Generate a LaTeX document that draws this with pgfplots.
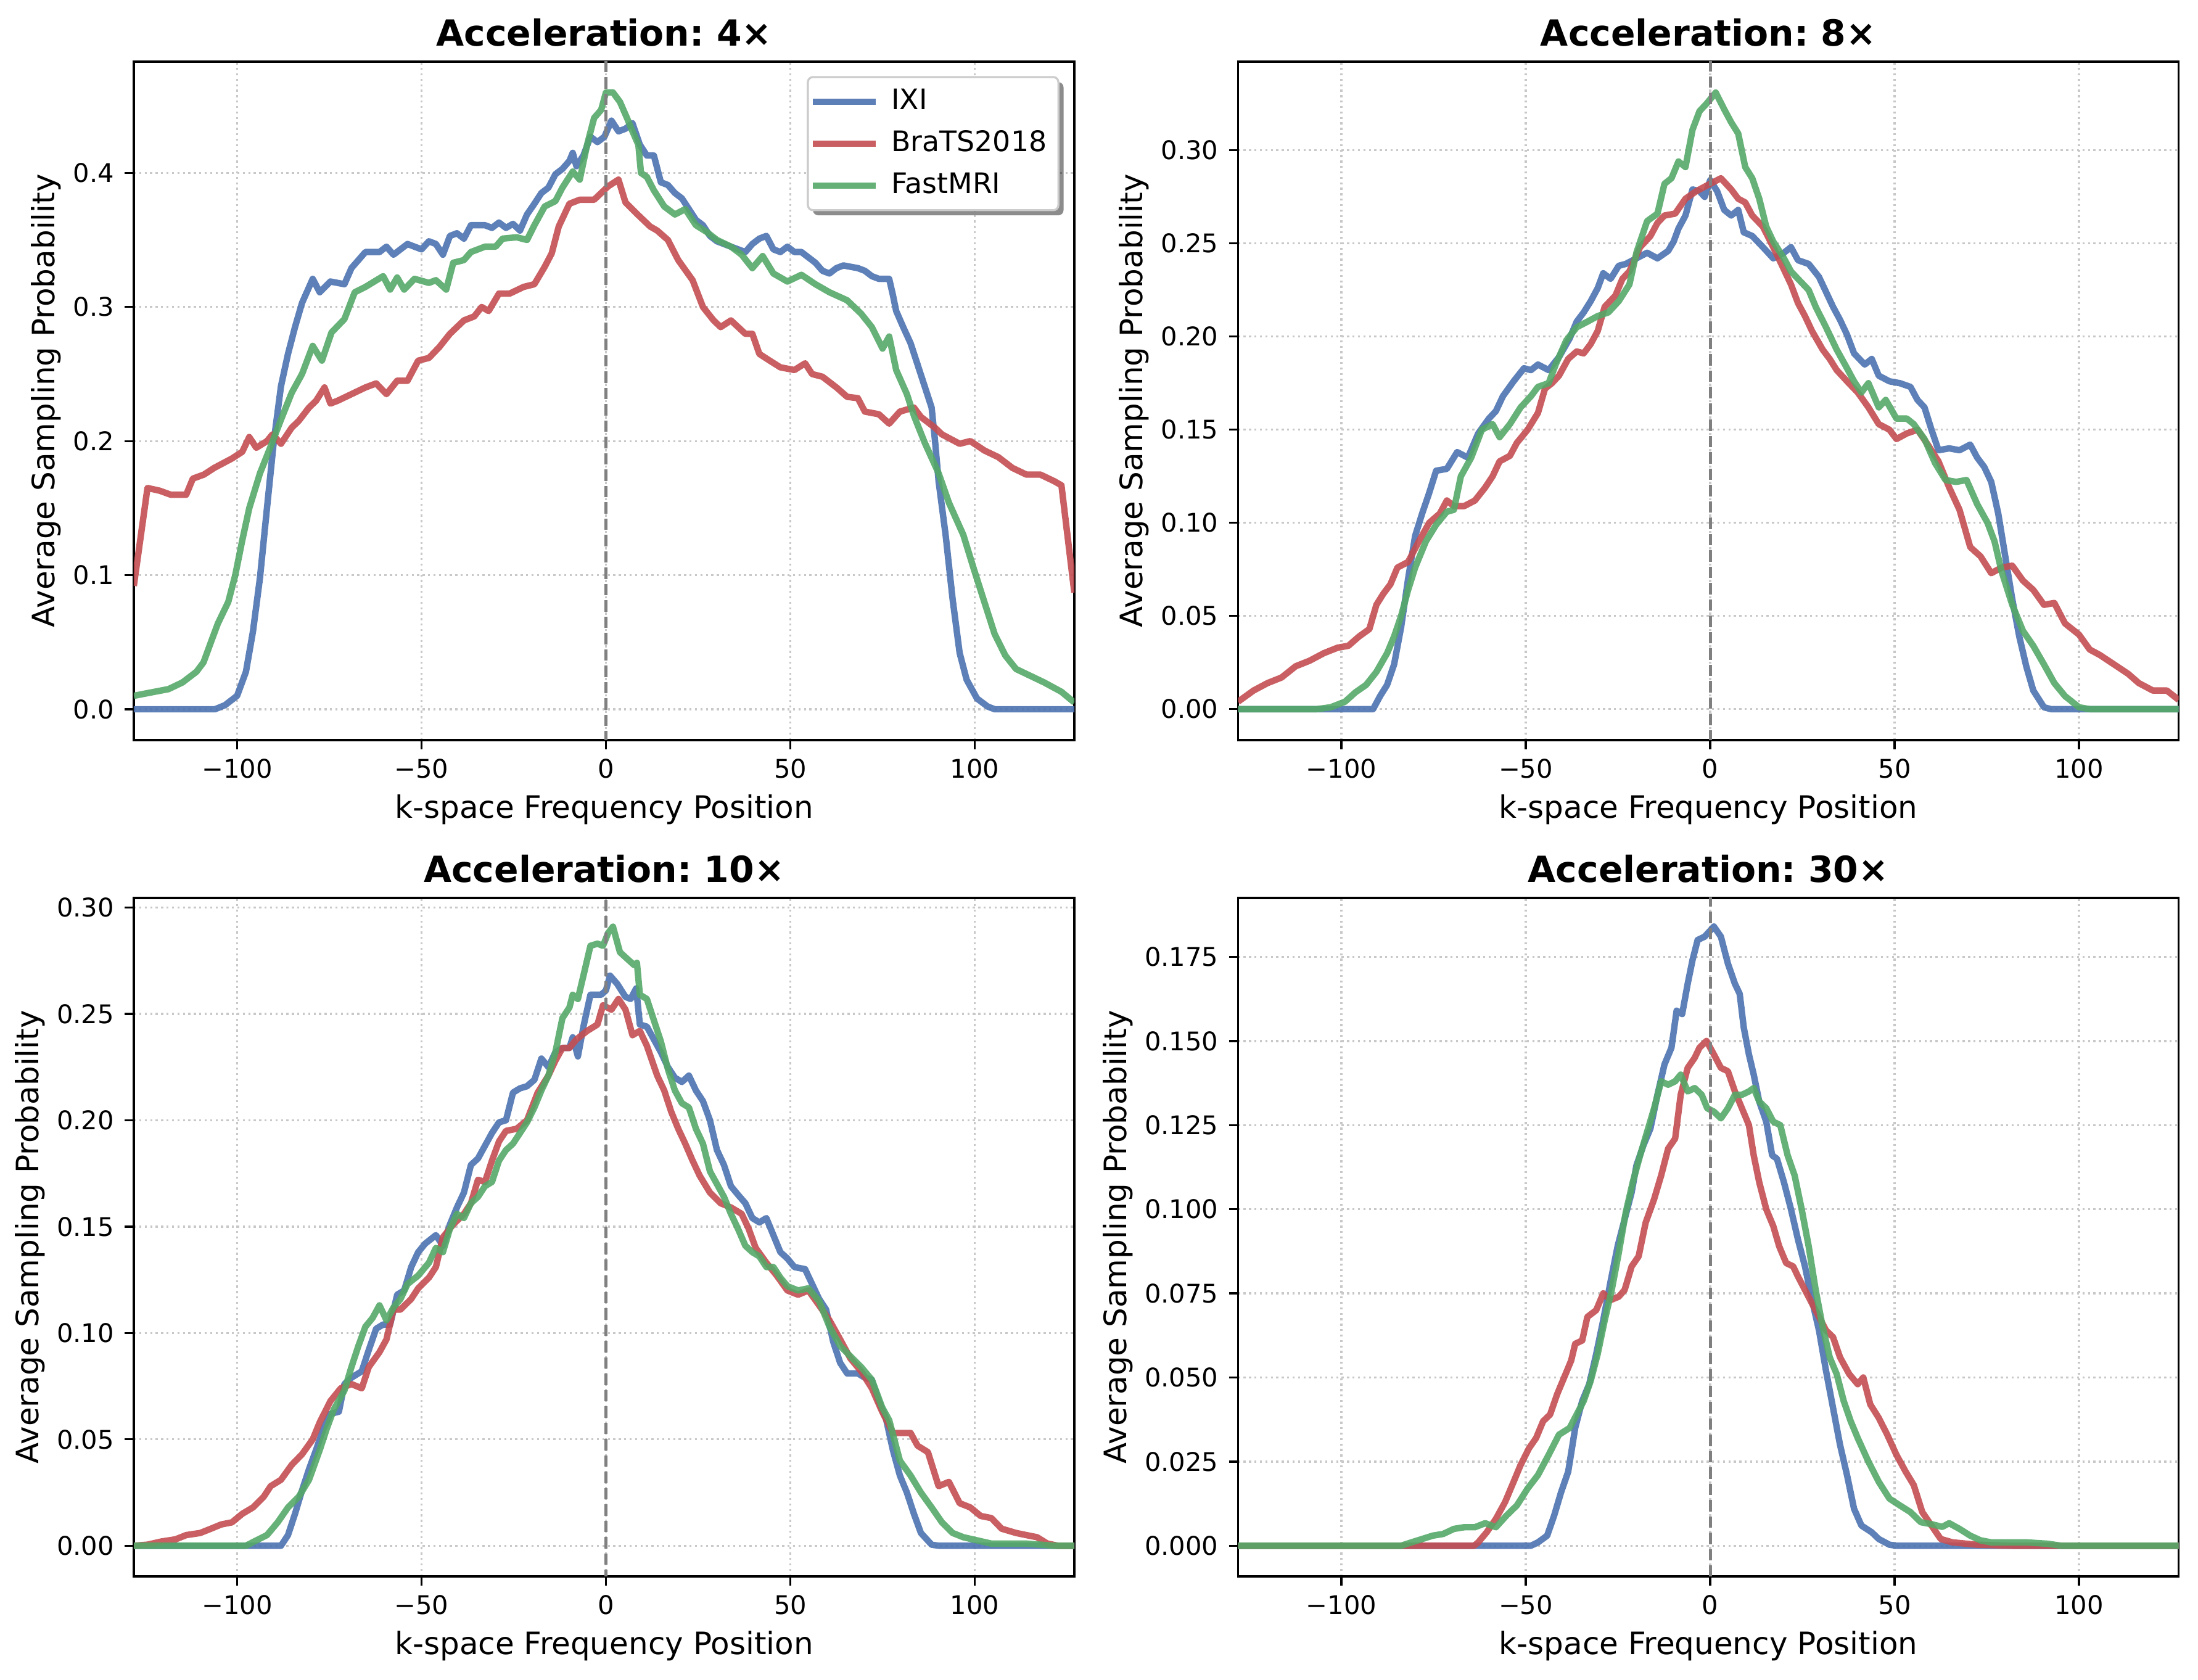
\documentclass[border=0pt]{standalone}
\usepackage{fontspec}
\setmainfont{DejaVu Sans}
\usepackage{pgfplots}
\pgfplotsset{compat=1.18}
\usetikzlibrary{shadows}
\frenchspacing

\makeatletter
\tikzset{noshadow/.code={\let\tikz@preactions\pgfutil@empty}}
\makeatother

\definecolor{cblue}{HTML}{4C72B0}
\definecolor{cred}{HTML}{C44E52}
\definecolor{cgreen}{HTML}{55A868}
\definecolor{gridc}{HTML}{C8C8C8}
\definecolor{legc}{HTML}{CCCCCC}
\definecolor{zeroc}{HTML}{808080}

\pgfplotsset{
  panel/.style={
    scale only axis, width=366pt, height=264pt,
    anchor=south west,
    xmin=-128, xmax=127,
    xtick={-100,-50,0,50,100},
    xticklabels={−100,−50,0,50,100},
    tick align=outside, tick pos=left,
    major tick length=3.5pt,
    every tick/.style={black, line width=0.8pt},
    axis line style={line width=0.8pt},
    grid=major,
    major grid style={gridc, line width=0.8pt, dash pattern=on 0.8pt off 1.32pt},
    tick label style={font=\fontsize{10}{12}\selectfont, inner sep=0pt},
    xticklabel style={anchor=base, yshift=-11.3pt},
    yticklabel style={anchor=east, xshift=-4pt},
    xlabel={k-space Frequency Position},
    ylabel={Average Sampling Probability},
    xlabel style={at={(axis description cs:0.5,0)}, anchor=base, yshift=-30.4pt,
      inner sep=0pt, font=\fontsize{12}{14}\selectfont},
    ylabel style={at={(ticklabel cs:0.5,4.5pt)}, anchor=south, inner sep=0pt,
      font=\fontsize{12}{14}\selectfont},
    title style={at={(0.5,1)}, anchor=base, yshift=0pt, inner sep=0pt,
      font=\bfseries\fontsize{14}{17}\selectfont},
    every axis plot/.append style={line width=2.5pt, opacity=0.9, line join=round},
  },
  zeroline/.style={zeroc, line width=1.2pt, dash pattern=on 4.44pt off 1.92pt,
    opacity=1, forget plot},
}

\begin{document}
\begin{tikzpicture}
\useasboundingbox (0,0) rectangle (855.36pt,653.52pt);

% ---------- 4x ----------
\begin{axis}[panel, at={(52.08pt,365.52pt)},
  title={Acceleration: 4×},
  ymin=-0.023, ymax=0.483,
  ytick={0,0.1,0.2,0.3,0.4}, yticklabels={0.0,0.1,0.2,0.3,0.4},
  legend style={at={(1,1)}, anchor=north east, xshift=-5.8pt, yshift=-5.6pt,
    draw=legc, line width=0.8pt, rounded corners=2pt, fill=white,
    drop shadow={shadow xshift=2pt, shadow yshift=-2pt, fill=black, opacity=0.45},
    font=\fontsize{11}{13}\selectfont,
    inner xsep=2pt, inner ysep=2.6pt, row sep=2.3pt, column sep=3.5pt,
    nodes={inner xsep=2.5pt, inner ysep=1.5pt, text height=8.5pt, text depth=2.5pt}},
  legend cell align=left,
  legend image code/.code={\draw[noshadow, #1, line cap=rect] (0pt,0pt) -- (22pt,0pt);},
]
\addplot[cblue] coordinates {
(-128,0) (-106,0) (-103.3,0.003) (-100,0.010) (-97.6,0.028) (-95.7,0.058) (-93.8,0.098)
(-91.9,0.150) (-90,0.201) (-88.1,0.241) (-86.2,0.265) (-84.3,0.285) (-82.4,0.303)
(-79.5,0.321) (-77.6,0.311) (-74.7,0.319) (-70.9,0.317) (-69,0.329) (-65.2,0.341)
(-61.4,0.341) (-59.5,0.345) (-57.6,0.339) (-53.8,0.347) (-50,0.343) (-48,0.349)
(-46.1,0.347) (-44.2,0.339) (-42.3,0.353) (-40.4,0.355) (-38.5,0.351) (-36.6,0.361)
(-32.8,0.361) (-30.9,0.359) (-29,0.363) (-27.1,0.359) (-25.2,0.362) (-23.3,0.357)
(-21.4,0.369) (-19.4,0.377) (-17.5,0.385) (-15.6,0.389) (-13.7,0.399) (-11.8,0.403)
(-9.9,0.409) (-9,0.415) (-8,0.405) (-6.1,0.413) (-4.2,0.427) (-2.3,0.423) (-0.4,0.427)
(1.5,0.439) (3.4,0.431) (5.3,0.433) (7.2,0.437) (9.2,0.421) (11.1,0.413) (13,0.413)
(14.9,0.393) (16.8,0.391) (18.7,0.385) (20.6,0.381) (22.5,0.373) (24.4,0.365)
(26.3,0.361) (28.2,0.353) (30.1,0.349) (33.9,0.345) (37.8,0.341) (39.7,0.347)
(41.6,0.351) (43.5,0.353) (45.4,0.343) (47.3,0.341) (49.2,0.345) (51.1,0.341)
(53,0.341) (54.9,0.337) (56.8,0.333) (58.7,0.327) (60.6,0.325) (62.5,0.329) (64.4,0.331)
(66.3,0.330) (68.3,0.329) (70.2,0.327) (72.1,0.323) (74,0.321) (76.8,0.321) (77.8,0.309)
(78.7,0.297) (80.6,0.285) (82.6,0.273) (84.5,0.257) (86.4,0.241) (88.3,0.225)
(89.2,0.201) (90.2,0.170) (92.1,0.130) (94,0.082) (95.9,0.042) (97.8,0.022)
(100.6,0.008) (103.5,0.002) (105.4,0) (127,0)
};
\addlegendentry{IXI}
\addplot[cred] coordinates {
(-128,0.092) (-124.3,0.165) (-121,0.163) (-118,0.160) (-113.8,0.160) (-112,0.172)
(-109,0.175) (-106.2,0.180) (-101.4,0.187) (-98.6,0.192) (-96.7,0.203) (-94.8,0.195)
(-91.9,0.200) (-90.4,0.205) (-88.1,0.198) (-85.2,0.210) (-83.3,0.215) (-80.5,0.225)
(-78.6,0.230) (-76.3,0.240) (-74.7,0.228) (-72.8,0.230) (-69,0.235) (-65.2,0.240)
(-62.3,0.243) (-59.5,0.235) (-56.6,0.245) (-53.8,0.245) (-50.9,0.260) (-48,0.262)
(-45.2,0.270) (-42.3,0.280) (-38.5,0.290) (-35.7,0.293) (-33.7,0.300) (-31.8,0.297)
(-29,0.310) (-26.1,0.310) (-22.3,0.315) (-19.4,0.317) (-16.6,0.330) (-14.7,0.340)
(-12.8,0.360) (-9.9,0.377) (-7.1,0.380) (-3.2,0.380) (-1.3,0.385) (0.6,0.390)
(3.4,0.395) (5.3,0.378) (8.2,0.370) (12,0.360) (13.9,0.357) (16.8,0.350) (19.6,0.335)
(23.5,0.320) (26.3,0.300) (29.2,0.290) (31.1,0.285) (33.9,0.290) (37.8,0.280)
(39.7,0.280) (41.6,0.265) (44.4,0.260) (47.3,0.255) (51.1,0.253) (54,0.258) (55.9,0.250)
(58.7,0.248) (62.5,0.240) (65.4,0.233) (68.3,0.232) (70.2,0.222) (74,0.220) (76.8,0.213)
(79.7,0.222) (83.5,0.225) (85.4,0.218) (89.2,0.210) (91.1,0.205) (95.9,0.198)
(98.8,0.200) (102.6,0.193) (106.4,0.188) (110.2,0.180) (114,0.175) (117.8,0.175)
(121.6,0.170) (123.5,0.167) (127,0.087)
};
\addlegendentry{BraTS2018}
\addplot[cgreen] coordinates {
(-128,0.010) (-124.3,0.012) (-118.6,0.015) (-114.8,0.020) (-111,0.028) (-109.1,0.035)
(-107.1,0.050) (-105.2,0.064) (-102.4,0.080) (-100.5,0.100) (-98.6,0.126) (-96.7,0.150)
(-93.8,0.176) (-90.9,0.196) (-88.1,0.216) (-85.2,0.236) (-82.4,0.250) (-79.5,0.271)
(-77,0.260) (-74.4,0.281) (-70.9,0.291) (-68.1,0.311) (-65.2,0.315) (-60.4,0.323)
(-58.5,0.313) (-56.6,0.322) (-54.7,0.313) (-51.9,0.321) (-48,0.318) (-46.1,0.320)
(-43.3,0.313) (-41.4,0.333) (-38.5,0.335) (-36.6,0.341) (-32.8,0.345) (-29.9,0.345)
(-28,0.351) (-24.2,0.352) (-21.4,0.350) (-19.4,0.361) (-16.6,0.375) (-13.7,0.379)
(-11.8,0.389) (-9,0.401) (-7.1,0.395) (-5.1,0.421) (-3.2,0.441) (-1.3,0.447) (0,0.460)
(1.9,0.460) (3.8,0.453) (5.7,0.441) (7.2,0.431) (8.8,0.421) (9.5,0.400) (11.1,0.397)
(13,0.387) (15.8,0.375) (18.7,0.369) (21.5,0.373) (24.4,0.361) (27.3,0.356) (30.1,0.350)
(33.9,0.345) (36.8,0.339) (39.7,0.329) (42.5,0.338) (45.4,0.325) (49.2,0.319) (53,0.324)
(56.8,0.317) (60.6,0.311) (65.4,0.305) (69.2,0.295) (72.1,0.285) (75,0.269) (76.8,0.278)
(78.7,0.253) (81.6,0.235) (83.5,0.219) (86.4,0.199) (90.2,0.176) (93,0.154) (96.9,0.130)
(99.7,0.105) (102.6,0.080) (105.4,0.056) (108.3,0.040) (111.2,0.030) (115,0.025)
(118.8,0.020) (123.5,0.013) (127,0.005)
};
\addlegendentry{FastMRI}
\addplot[zeroline] coordinates {(0,-1) (0,1)};
\end{axis}

% ---------- 8x ----------
\begin{axis}[panel, at={(481.8pt,365.52pt)},
  title={Acceleration: 8×},
  ymin=-0.0166, ymax=0.3476,
  ytick={0,0.05,0.1,0.15,0.2,0.25,0.3},
  yticklabels={0.00,0.05,0.10,0.15,0.20,0.25,0.30},
]
\addplot[cblue] coordinates {
(-128,0) (-91.4,0) (-89.5,0.007) (-87.6,0.013) (-85.7,0.024) (-83.8,0.044) (-81.9,0.070)
(-80,0.093) (-78.1,0.105) (-76.2,0.116) (-74.3,0.128) (-71.4,0.129) (-68.6,0.138)
(-65.7,0.135) (-62.9,0.148) (-60,0.156) (-58.1,0.160) (-56.2,0.168) (-53.3,0.176)
(-50.5,0.183) (-48.6,0.182) (-46.7,0.185) (-43.8,0.182) (-41,0.189) (-38.1,0.199)
(-36.2,0.208) (-34.3,0.213) (-32.4,0.219) (-30.5,0.226) (-29,0.234) (-27,0.231)
(-24.8,0.238) (-22.9,0.239) (-20,0.242) (-17.1,0.245) (-14.3,0.242) (-11.4,0.246)
(-9.9,0.251) (-8.6,0.258) (-6.7,0.265) (-4.8,0.279) (-2.9,0.278) (-1.5,0.275) (0,0.284)
(1.9,0.278) (3.8,0.268) (5.7,0.265) (7.6,0.268) (9.1,0.256) (11.4,0.254) (14.3,0.248)
(17.1,0.242) (20,0.245) (21.9,0.248) (23.8,0.241) (26.7,0.239) (29.5,0.232) (31.4,0.224)
(33.3,0.216) (35.2,0.209) (37.1,0.201) (39,0.191) (41.9,0.185) (43.8,0.188) (45.7,0.179)
(48.6,0.176) (51.4,0.175) (54.3,0.173) (56.2,0.166) (58.1,0.162) (60,0.150) (61.9,0.139)
(64.8,0.140) (67.6,0.139) (70.5,0.142) (72.4,0.135) (74.3,0.130) (76.2,0.122)
(78.1,0.105) (80,0.082) (81.9,0.059) (83.8,0.039) (85.7,0.023) (87.6,0.010) (90.5,0.001)
(92.4,0) (127,0)
};
\addplot[cred] coordinates {
(-128,0.004) (-123.8,0.010) (-120,0.014) (-116.2,0.017) (-112.4,0.023) (-108.6,0.026)
(-104.8,0.030) (-101,0.033) (-98.1,0.034) (-95.2,0.039) (-92.4,0.043) (-90.5,0.056)
(-88.6,0.062) (-86.7,0.067) (-84.8,0.076) (-81.9,0.079) (-79,0.090) (-76.2,0.100)
(-73.3,0.105) (-71.4,0.112) (-69.5,0.109) (-66.7,0.109) (-63.8,0.112) (-61,0.119)
(-59,0.125) (-57.1,0.133) (-54.3,0.136) (-52.4,0.143) (-49.5,0.150) (-46.7,0.159)
(-44.8,0.172) (-42.9,0.175) (-41,0.179) (-38.5,0.188) (-36.2,0.192) (-34.3,0.191)
(-32.4,0.196) (-30.5,0.203) (-28.6,0.216) (-25.7,0.222) (-23.8,0.231) (-21.9,0.235)
(-19,0.248) (-16.2,0.254) (-14.3,0.261) (-12.4,0.265) (-9.5,0.266) (-6.7,0.274)
(-3.8,0.278) (-1,0.281) (2.9,0.285) (5.7,0.279) (7.6,0.274) (9.5,0.272) (11.4,0.265)
(14.3,0.259) (17.1,0.248) (20,0.236) (21.9,0.228) (23.8,0.218) (25.7,0.211) (27.6,0.203)
(30.5,0.193) (32.4,0.188) (34.3,0.182) (37.1,0.176) (40,0.170) (42.9,0.162) (45.7,0.153)
(48.6,0.150) (50.5,0.145) (53.3,0.148) (56.2,0.150) (59,0.142) (61.9,0.133) (64.8,0.119)
(67.6,0.107) (70.5,0.087) (73.3,0.082) (76.2,0.073) (79,0.076) (81.9,0.077) (84.8,0.069)
(87.6,0.064) (90.5,0.056) (93.3,0.057) (96.2,0.046) (100,0.040) (102.9,0.032)
(105.7,0.029) (109.5,0.024) (113.3,0.019) (116.2,0.014) (120,0.010) (123.8,0.010)
(127,0.005)
};
\addplot[cgreen] coordinates {
(-128,0) (-106.7,0) (-102.9,0.001) (-99,0.004) (-96.2,0.009) (-93.3,0.013) (-90.5,0.020)
(-87.6,0.030) (-85.7,0.039) (-83.8,0.050) (-81.9,0.064) (-80,0.076) (-77.1,0.090)
(-74.3,0.099) (-71.4,0.106) (-69.5,0.107) (-67.6,0.125) (-64.8,0.135) (-61.9,0.150)
(-59,0.153) (-57.1,0.146) (-54.3,0.153) (-51.4,0.162) (-48.6,0.168) (-46.7,0.173)
(-43.8,0.175) (-41.9,0.185) (-39,0.198) (-36.2,0.205) (-33.3,0.208) (-30.5,0.211)
(-27.6,0.213) (-24.8,0.219) (-21.9,0.228) (-20,0.245) (-17.1,0.262) (-14.3,0.266)
(-12.4,0.282) (-10.5,0.285) (-8.6,0.294) (-6.7,0.291) (-4.8,0.311) (-2.9,0.321)
(-1,0.325) (1.5,0.331) (3.8,0.322) (5.7,0.315) (7.6,0.309) (9.5,0.291) (11.4,0.285)
(13.3,0.274) (15.2,0.259) (17.1,0.251) (20,0.242) (21.9,0.235) (23.8,0.231) (26.7,0.225)
(28.6,0.216) (31.4,0.205) (34.3,0.193) (37.1,0.183) (39,0.176) (41,0.170) (42.9,0.175)
(45.7,0.162) (47.6,0.166) (50.5,0.156) (53.3,0.156) (55.2,0.153) (58.1,0.145) (61,0.132)
(63.8,0.123) (66.7,0.122) (69.5,0.123) (72.4,0.110) (75.2,0.100) (77.1,0.090) (79,0.074)
(81.9,0.056) (84.8,0.042) (87.6,0.034) (90.5,0.024) (93.3,0.014) (96.2,0.007) (100,0.001)
(102.9,0) (127,0)
};
\addplot[zeroline] coordinates {(0,-1) (0,1)};
\end{axis}

% ---------- 10x ----------
\begin{axis}[panel, at={(52.08pt,40.08pt)},
  title={Acceleration: 10×},
  ymin=-0.0144, ymax=0.3045,
  ytick={0,0.05,0.1,0.15,0.2,0.25,0.3},
  yticklabels={0.00,0.05,0.10,0.15,0.20,0.25,0.30},
]
\addplot[cblue] coordinates {
(-128,0) (-88.1,0) (-86.2,0.005) (-84.3,0.015) (-82.4,0.026) (-80.5,0.036) (-78.6,0.045)
(-76.6,0.055) (-74.7,0.062) (-72.4,0.063) (-70.9,0.076) (-69,0.079) (-66.2,0.082)
(-64.3,0.092) (-62.3,0.102) (-60.4,0.104) (-58.5,0.104) (-56.6,0.118) (-54.7,0.120)
(-52.8,0.131) (-50.9,0.138) (-49,0.142) (-46.1,0.146) (-44.2,0.141) (-42.3,0.151)
(-40.4,0.159) (-38.5,0.166) (-36.6,0.179) (-34.7,0.182) (-32.8,0.188) (-30.9,0.194)
(-29,0.199) (-27.1,0.200) (-25.2,0.213) (-23.3,0.215) (-21.4,0.216) (-19.4,0.219)
(-17.5,0.229) (-15.6,0.225) (-13.7,0.232) (-11.8,0.234) (-9.9,0.234) (-9,0.239)
(-7.6,0.230) (-6.1,0.244) (-4.2,0.259) (-1.3,0.259) (0,0.261) (1.1,0.268) (3.1,0.264)
(5.3,0.258) (6.7,0.257) (8.2,0.262) (9.2,0.245) (11.1,0.244) (13,0.238) (14.9,0.232)
(16.8,0.225) (18.7,0.220) (20.6,0.218) (22.5,0.221) (24.4,0.214) (26.3,0.209)
(28.2,0.200) (30.1,0.186) (32,0.179) (33.9,0.169) (35.8,0.165) (37.8,0.161) (39.7,0.154)
(41.6,0.152) (43.5,0.154) (45.4,0.146) (47.3,0.138) (49.2,0.135) (51.1,0.131) (54,0.130)
(55.9,0.123) (57.8,0.116) (59.7,0.111) (61.6,0.096) (63.5,0.086) (65.4,0.081)
(68.3,0.081) (70.2,0.079) (72.1,0.078) (74,0.068) (75.9,0.060) (77.8,0.045) (79.7,0.033)
(81.6,0.025) (83.5,0.015) (85.4,0.006) (88.3,0.0005) (90.2,0) (127,0)
};
\addplot[cred] coordinates {
(-128,0) (-124.3,0.0005) (-120.5,0.002) (-116.7,0.003) (-113.8,0.005) (-110,0.006)
(-107.1,0.008) (-104.3,0.010) (-101.4,0.011) (-98.6,0.015) (-95.7,0.018) (-92.8,0.023)
(-90.9,0.028) (-88.1,0.031) (-85.2,0.038) (-82.4,0.043) (-79.5,0.050) (-77.6,0.058)
(-74.7,0.068) (-71.9,0.074) (-69,0.076) (-66.2,0.074) (-64.3,0.084) (-61.4,0.091)
(-59.5,0.097) (-57.6,0.111) (-55.7,0.111) (-52.8,0.116) (-50.9,0.121) (-48,0.126)
(-46.1,0.131) (-44.2,0.145) (-41.4,0.151) (-38.5,0.156) (-36.6,0.161) (-34.7,0.172)
(-32.8,0.171) (-30.9,0.181) (-29,0.190) (-27.1,0.195) (-24.2,0.196) (-21.4,0.200)
(-18.5,0.213) (-15.6,0.221) (-13.7,0.228) (-11.8,0.234) (-9.9,0.234) (-8,0.238)
(-5.1,0.242) (-2.3,0.245) (-0.8,0.254) (1.5,0.252) (3.4,0.257) (5.3,0.252) (7.2,0.240)
(9.2,0.242) (11.1,0.235) (13.9,0.221) (15.8,0.214) (17.7,0.204) (19.6,0.196)
(21.5,0.189) (23.5,0.181) (25.4,0.174) (28.2,0.166) (31.1,0.161) (33.9,0.159)
(36.8,0.156) (38.7,0.149) (40.6,0.140) (43.5,0.133) (46.3,0.127) (49.2,0.120)
(52.1,0.118) (54.9,0.120) (57.8,0.113) (60.6,0.106) (63.5,0.097) (66.3,0.088)
(69.2,0.082) (72.1,0.074) (74.9,0.063) (77.8,0.053) (80.6,0.053) (82.6,0.053)
(84.5,0.047) (87.3,0.044) (90.2,0.028) (93,0.030) (95.9,0.020) (98.8,0.018)
(101.6,0.014) (104.5,0.013) (107.3,0.008) (111.2,0.006) (114,0.005) (116.9,0.004)
(119.7,0.001) (122.6,0) (127,0)
};
\addplot[cgreen] coordinates {
(-128,0) (-97.6,0) (-94.8,0.0025) (-91.9,0.005) (-89,0.011) (-86.2,0.018) (-83.3,0.023)
(-80.5,0.031) (-77.6,0.045) (-75.7,0.055) (-73.8,0.064) (-70.9,0.073) (-69,0.084)
(-67.1,0.094) (-65.2,0.103) (-63.3,0.107) (-61.4,0.113) (-59.5,0.106) (-57.6,0.112)
(-55.7,0.116) (-53.8,0.123) (-50.9,0.127) (-48,0.133) (-46.1,0.140) (-44.2,0.138)
(-42.3,0.149) (-40.4,0.156) (-38.5,0.154) (-36.6,0.161) (-34.7,0.164) (-32.8,0.169)
(-30.9,0.171) (-29,0.181) (-27.1,0.186) (-25.2,0.189) (-23.3,0.194) (-21.4,0.199)
(-19.4,0.206) (-17.5,0.214) (-15.6,0.221) (-13.7,0.232) (-11.8,0.248) (-9.9,0.253)
(-9,0.259) (-7.6,0.257) (-6.1,0.268) (-4.2,0.282) (-2.3,0.283) (-0.8,0.282) (0.6,0.288)
(1.9,0.291) (3.8,0.279) (5.7,0.276) (7.6,0.273) (8.4,0.274) (9.2,0.259) (11.1,0.257)
(13,0.247) (14.9,0.237) (16.8,0.224) (18.7,0.214) (20.6,0.208) (22.5,0.206) (24.4,0.196)
(26.3,0.189) (28.2,0.176) (30.1,0.170) (32,0.164) (33.9,0.156) (35.8,0.149) (37.8,0.141)
(39.7,0.138) (41.6,0.136) (43.5,0.131) (45.4,0.131) (47.3,0.126) (49.2,0.122)
(52.1,0.120) (54.9,0.121) (57.8,0.115) (60.6,0.103) (63.5,0.094) (66.3,0.089)
(69.2,0.084) (72.1,0.078) (74.9,0.065) (76.8,0.059) (79.7,0.040) (82.6,0.033)
(85.4,0.025) (88.3,0.018) (91.1,0.011) (94,0.006) (96.9,0.004) (100.7,0.0025)
(104.5,0.001) (114,0.001) (121.6,0) (127,0)
};
\addplot[zeroline] coordinates {(0,-1) (0,1)};
\end{axis}

% ---------- 30x ----------
\begin{axis}[panel, at={(481.8pt,40.08pt)},
  title={Acceleration: 30×},
  ymin=-0.0091, ymax=0.1925,
  ytick={0,0.025,0.05,0.075,0.1,0.125,0.15,0.175},
  yticklabels={0.000,0.025,0.050,0.075,0.100,0.125,0.150,0.175},
]
\addplot[cblue] coordinates {
(-128,0) (-48.6,0) (-46.7,0.001) (-44.2,0.003) (-42.3,0.009) (-40.4,0.016) (-38.5,0.022)
(-36.6,0.035) (-34.7,0.043) (-32.8,0.048) (-30.9,0.057) (-29,0.067) (-27.1,0.078)
(-25.1,0.089) (-23.2,0.097) (-21.3,0.105) (-20,0.113) (-18.1,0.119) (-16.2,0.124)
(-14.3,0.134) (-12.4,0.143) (-10.5,0.148) (-9.1,0.159) (-7.6,0.158) (-6.1,0.167)
(-4.8,0.174) (-3.4,0.180) (-1.5,0.181) (1,0.184) (2.9,0.181) (4.8,0.173) (6.7,0.167)
(8,0.164) (9.1,0.154) (10.5,0.146) (11.8,0.140) (13.3,0.132) (15.2,0.126) (16.8,0.116)
(18.1,0.115) (20,0.108) (21.9,0.100) (23.8,0.091) (25.7,0.083) (27.6,0.073) (29.5,0.064)
(31.4,0.052) (33.3,0.041) (35.2,0.030) (37.1,0.021) (39,0.011) (41,0.006) (43.8,0.004)
(45.7,0.002) (48.6,0.0003) (50.5,0) (127,0)
};
\addplot[cred] coordinates {
(-128,0) (-64,0) (-62.9,0.001) (-60.6,0.004) (-58.1,0.008) (-55.6,0.013) (-53.3,0.019)
(-51.4,0.024) (-49.1,0.029) (-47.2,0.032) (-45.3,0.037) (-43.4,0.039) (-41.5,0.045)
(-39.6,0.050) (-37.7,0.055) (-36.6,0.060) (-34.7,0.061) (-33.3,0.068) (-30.9,0.070)
(-29,0.075) (-27,0.073) (-24.8,0.074) (-23.2,0.076) (-21.3,0.083) (-19.4,0.086)
(-17.5,0.096) (-15.2,0.103) (-13.3,0.110) (-11.4,0.118) (-9.5,0.121) (-8,0.134)
(-6.1,0.142) (-4.2,0.145) (-2.9,0.148) (-1,0.150) (1,0.146) (2.9,0.142) (4.8,0.141)
(6.7,0.135) (8.6,0.130) (10.5,0.125) (11.8,0.116) (13.3,0.108) (15.2,0.100) (17.1,0.095)
(18.7,0.089) (20.6,0.084) (22.5,0.083) (23.8,0.080) (25.7,0.076) (27.6,0.072)
(29.5,0.068) (31.4,0.064) (33.3,0.062) (35.2,0.056) (37.7,0.051) (40,0.048) (41.5,0.050)
(43.4,0.042) (45.7,0.038) (48,0.033) (50.5,0.027) (53,0.022) (55.2,0.018) (57.5,0.010)
(60,0.006) (62.5,0.002) (65.7,0.001) (72.4,0.0003) (81.9,0) (127,0)
};
\addplot[cgreen] coordinates {
(-128,0) (-83.8,0) (-81,0.001) (-78.1,0.002) (-75.2,0.003) (-72.4,0.0035) (-69.5,0.005)
(-66.7,0.0055) (-63.8,0.0055) (-61,0.0067) (-58.1,0.0055) (-55.2,0.009) (-52.4,0.012)
(-49.5,0.017) (-46.7,0.021) (-43.8,0.027) (-41,0.033) (-38.1,0.035) (-36.2,0.039)
(-34.3,0.043) (-32.4,0.049) (-30.5,0.057) (-28.6,0.067) (-26.7,0.076) (-24.8,0.087)
(-22.9,0.099) (-21,0.108) (-19,0.116) (-17.1,0.123) (-15.2,0.130) (-13.3,0.138)
(-11.4,0.137) (-9.5,0.138) (-8,0.140) (-6.1,0.135) (-4.2,0.136) (-2.3,0.134) (-0.8,0.130)
(1,0.129) (2.9,0.127) (4.8,0.130) (6.7,0.134) (8.6,0.134) (10.5,0.135) (11.8,0.136)
(13.3,0.132) (15.2,0.130) (17.1,0.126) (19,0.125) (21,0.116) (22.9,0.110) (24.8,0.100)
(26.7,0.089) (28.6,0.076) (30.5,0.065) (32.4,0.056) (34.3,0.051) (36.2,0.043)
(38.1,0.037) (40,0.032) (42.9,0.025) (45.7,0.019) (48.6,0.014) (51.4,0.012) (54.3,0.010)
(57.1,0.007) (60,0.0064) (62.9,0.0056) (64.8,0.0067) (67.6,0.005) (70.5,0.003)
(73.3,0.0016) (76.2,0.001) (85.7,0.001) (91.4,0.0006) (95.2,0) (127,0)
};
\addplot[zeroline] coordinates {(0,-1) (0,1)};
\end{axis}
\end{tikzpicture}
\end{document}
